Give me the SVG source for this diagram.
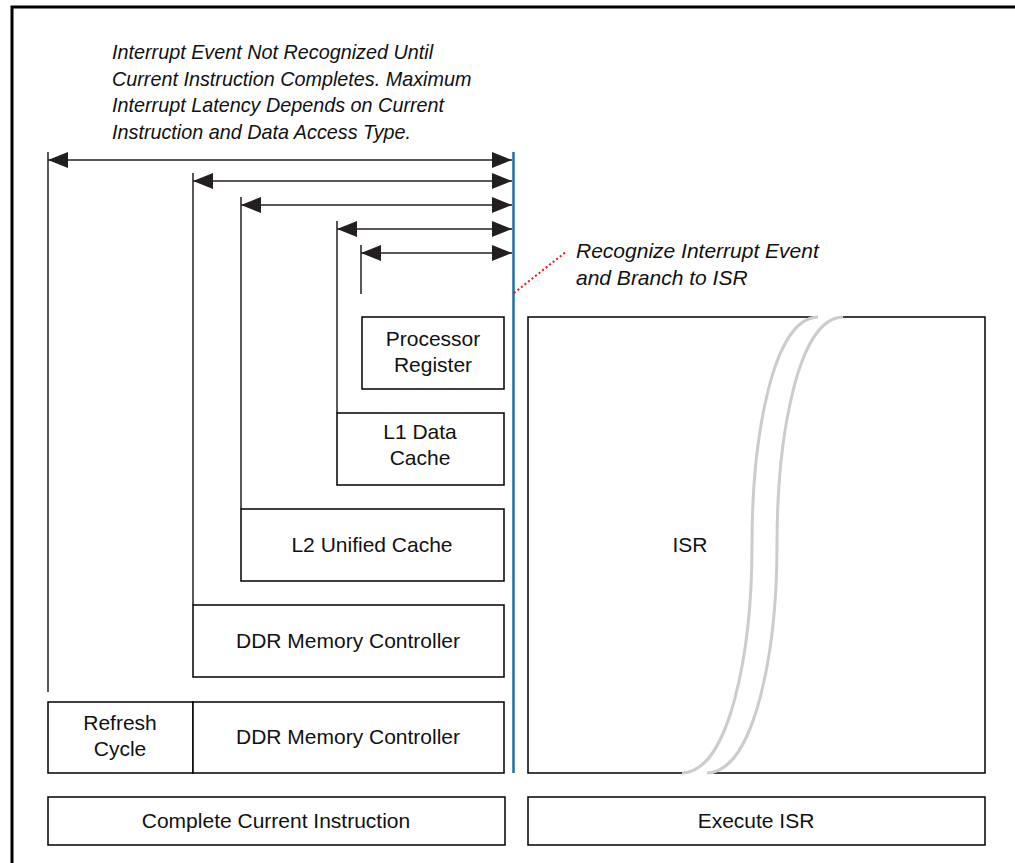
<svg xmlns="http://www.w3.org/2000/svg" width="1015" height="863" viewBox="0 0 1015 863">
  <style>
    .box { fill: #ffffff; stroke: #000000; stroke-width: 1.5; }
    .lbl { font-family: "Liberation Sans", Arial, sans-serif; font-size: 21px; fill: #111111; text-anchor: middle; }
    .note { font-family: "Liberation Sans", Arial, sans-serif; font-size: 21px; font-style: italic; fill: #111111; }
    .cap { font-size: 19.8px; }
    .span { stroke: #231f20; stroke-width: 1.5; fill: none; }
    .tick { stroke: #231f20; stroke-width: 1.5; fill: none; }
    .brk { stroke: #cccccc; stroke-width: 3; fill: none; }
  </style>
  <defs>
    <marker id="head" markerUnits="userSpaceOnUse" markerWidth="20" markerHeight="16" refX="20" refY="8" orient="auto-start-reverse">
      <path d="M0,0 L20,8 L0,16 z" fill="#231f20"/>
    </marker>
  </defs>

  <rect width="1015" height="863" fill="#ffffff"/>
  <!-- outer frame -->
  <rect x="12" y="7" width="1100" height="900" fill="none" stroke="#000000" stroke-width="3"/>

  <!-- caption -->
  <g id="caption">
    <text class="note cap" x="112" y="59">Interrupt Event Not Recognized Until</text>
    <text class="note cap" x="112" y="86">Current Instruction Completes. Maximum</text>
    <text class="note cap" x="112" y="112">Interrupt Latency Depends on Current</text>
    <text class="note cap" x="112" y="139">Instruction and Data Access Type.</text>
  </g>

  <g id="branch-note">
    <text class="note" x="576" y="258">Recognize Interrupt Event</text>
    <text class="note" x="576" y="285">and Branch to ISR</text>
  </g>

  <!-- latency spans and extension lines -->
  <g id="connectors">
    <line class="tick" x1="48" y1="152" x2="48" y2="692"/>
    <line class="tick" x1="193" y1="173" x2="193" y2="605"/>
    <line class="tick" x1="241" y1="197" x2="241" y2="509"/>
    <line class="tick" x1="337" y1="221" x2="337" y2="413"/>
    <line class="tick" x1="361" y1="245" x2="361" y2="294"/>

    <line class="span" x1="48" y1="160" x2="512" y2="160" stroke="#555555" marker-start="url(#head)" marker-end="url(#head)"/>
    <line class="span" x1="193" y1="181" x2="512" y2="181" marker-start="url(#head)" marker-end="url(#head)"/>
    <line class="span" x1="241" y1="205" x2="512" y2="205" marker-start="url(#head)" marker-end="url(#head)"/>
    <line class="span" x1="337" y1="229" x2="512" y2="229" marker-start="url(#head)" marker-end="url(#head)"/>
    <line class="span" x1="361" y1="253" x2="512" y2="253" marker-start="url(#head)" marker-end="url(#head)"/>

    <!-- interrupt recognition point -->
    <line x1="513.5" y1="152" x2="513.5" y2="773" stroke="#1f6fa6" stroke-width="2.5"/>
    <line x1="514" y1="293" x2="567" y2="251" stroke="#e8141b" stroke-width="2" stroke-dasharray="2 2.5"/>
  </g>

  <g id="processor-register">
    <rect class="box" x="362" y="317" width="142" height="72"/>
    <text class="lbl" x="433" y="346">Processor</text>
    <text class="lbl" x="433" y="372">Register</text>
  </g>

  <g id="l1-data-cache">
    <rect class="box" x="337" y="413" width="167" height="72"/>
    <text class="lbl" x="420" y="439">L1 Data</text>
    <text class="lbl" x="420" y="465">Cache</text>
  </g>

  <g id="l2-unified-cache">
    <rect class="box" x="241" y="509" width="263" height="72"/>
    <text class="lbl" x="372" y="552">L2 Unified Cache</text>
  </g>

  <g id="ddr-controller">
    <rect class="box" x="193" y="605" width="311" height="72"/>
    <text class="lbl" x="348" y="648">DDR Memory Controller</text>
  </g>

  <g id="refresh-cycle">
    <rect class="box" x="48" y="702" width="145" height="71"/>
    <text class="lbl" x="120" y="730">Refresh</text>
    <text class="lbl" x="120" y="756">Cycle</text>
  </g>

  <g id="ddr-controller-refresh">
    <rect class="box" x="193" y="702" width="311" height="71"/>
    <text class="lbl" x="348" y="744">DDR Memory Controller</text>
  </g>

  <g id="isr">
    <rect class="box" x="528" y="317" width="457" height="456"/>
    <!-- time-break band -->
    <path d="M818,316 C772,318 752,440 752,545 C752,650 730,773 682,774 L707,774 C755,773 777,650 777,545 C777,440 797,318 843,316 Z" fill="#ffffff" stroke="none"/>
    <path class="brk" d="M818,317 C772,318 752,440 752,545 C752,650 730,772 682,773"/>
    <path class="brk" d="M843,317 C797,318 777,440 777,545 C777,650 755,772 707,773"/>
    <text class="lbl" x="690" y="552">ISR</text>
  </g>

  <g id="complete-instruction">
    <rect class="box" x="48" y="797" width="457" height="48"/>
    <text class="lbl" x="276" y="828">Complete Current Instruction</text>
  </g>

  <g id="execute-isr">
    <rect class="box" x="528" y="797" width="457" height="48"/>
    <text class="lbl" x="756" y="828">Execute ISR</text>
  </g>
</svg>
